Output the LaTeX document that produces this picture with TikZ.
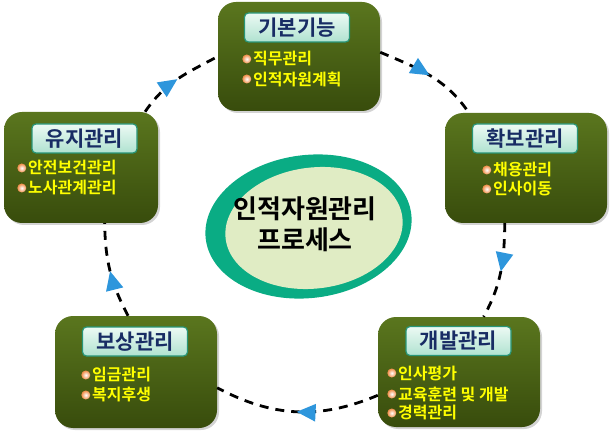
\documentclass[tikz,border=0pt]{standalone}
\usepackage{fontspec}
\setmainfont{Noto Sans CJK KR}[BoldFont={* Bold}]
\usepackage{tikz}
\usetikzlibrary{positioning,arrows.meta,calc,shapes.geometric,shadows,decorations.markings}
\definecolor{boxtop}{RGB}{90,118,30}
\definecolor{boxbot}{RGB}{56,76,12}
\definecolor{tabtop}{RGB}{236,250,244}
\definecolor{tabbot}{RGB}{176,226,208}
\definecolor{tabline}{RGB}{40,150,120}
\definecolor{titleblue}{RGB}{24,44,100}
\definecolor{itemyellow}{RGB}{255,255,0}
\definecolor{bulorange}{RGB}{240,140,70}
\definecolor{ringteal}{RGB}{10,172,132}
\definecolor{corefill}{RGB}{224,236,196}
\definecolor{arrowblue}{RGB}{46,150,220}

\begin{document}
\begin{tikzpicture}[x=1pt, y=1pt,
  stage/.style={rounded corners=18pt, top color=boxtop, bottom color=boxbot, draw=none,
    minimum width=162pt, minimum height=110pt, inner sep=0pt,
    drop shadow={shadow xshift=2pt, shadow yshift=-2pt, opacity=0.35}},
  tab/.style={rounded corners=4pt, top color=tabtop, bottom color=tabbot, draw=tabline, line width=1.2pt,
    minimum width=105pt, minimum height=29pt, inner sep=0pt,
    font=\bfseries\fontsize{21}{23}\selectfont, text=titleblue},
  item/.style={anchor=west, inner sep=0pt, font=\bfseries\fontsize{16}{18}\selectfont, text=itemyellow,
    label={[bul]left:{}}},
  bul/.style={circle, inner sep=0pt, minimum size=9pt, inner color=white, outer color=bulorange,
    label distance=1.5pt},
  cycle/.style={line width=2.8pt, dash pattern=on 9pt off 7pt,
    postaction={decorate, decoration={markings,
      mark=at position 0.5 with {\arrow{Triangle[length=19pt, width=17pt, color=arrowblue]}}}}}]
  \useasboundingbox (0,0) rectangle (610,434);

  % stages
  \node[stage, minimum height=109pt] (kibon) at (299,377.5) {};
  \node[stage] (hwakbo) at (526,266) {};
  \node[stage] (gaebal) at (459,62) {};
  \node[stage, minimum height=112pt] (bosang) at (136,62) {};
  \node[stage, minimum width=154pt, minimum height=111pt] (yuji) at (81,266.5) {};

  % titles
  \node[tab] (kibonT) at (297,406.5) {기본기능};
  \node[tab] (hwakboT) at (525,295.5) {확보관리};
  \node[tab] (gaebalT) at (458.5,93) {개발관리};
  \node[tab] (bosangT) at (135,92.5) {보상관리};
  \node[tab] (yujiT) at (84.5,295.5) {유지관리};

  % items
  \node[item] (k1) at (253,375) {직무관리};
  \node[item] (k2) at (253,355) {인적자원계획};
  \node[item] (h1) at (493,264) {채용관리};
  \node[item] (h2) at (493,245) {인사이동};
  \node[item] (g1) at (398,61) {인사평가};
  \node[item] (g2) at (398,40) {교육훈련 및 개발};
  \node[item] (g3) at (398,21) {경력관리};
  \node[item] (b1) at (92,59) {임금관리};
  \node[item] (b2) at (92,39) {복지후생};
  \node[item] (y1) at (28,266) {안전보건관리};
  \node[item] (y2) at (28,246) {노사관계관리};

  % centre
  \node[ellipse, fill=ringteal, minimum width=207pt, minimum height=143pt, rotate=7] (ring) at (308.5,207.5) {};
  \node[ellipse, fill=corefill, minimum width=178pt, minimum height=121pt, rotate=7] (core) at (314,206) {};
  \node[align=center, font=\bfseries\fontsize{26}{31}\selectfont] (process) at (305,210) {인적자원관리\\프로세스};

  % cycle
  \draw[cycle] (kibon.3) to[out=-23, in=124] (hwakbo.136);
  \draw[cycle] (hwakbo.249) to[out=-91, in=61] (gaebal.66);
  \draw[cycle] (gaebal.196) to[out=-157, in=-28] (bosang.-11);
  \draw[cycle] (bosang.98) to[out=118, in=-89] (yuji.-67);
  \draw[cycle] (yuji.41) to[out=56, in=208] (kibon.west);
\end{tikzpicture}
\end{document}
